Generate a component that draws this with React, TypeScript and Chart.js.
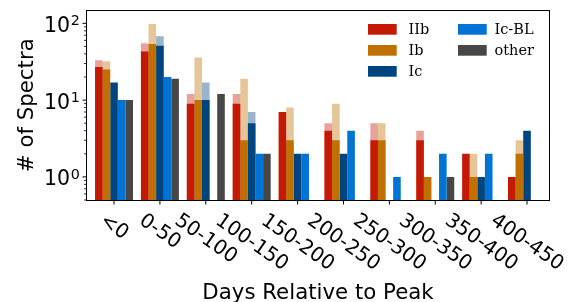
import { useEffect, useRef } from 'react';
import { Chart, registerables } from 'chart.js';

Chart.register(...registerables);

const categories = ['<0', '0-50', '50-100', '100-150', '150-200', '200-250', '250-300', '300-350', '350-400', '400-450'];
const seriesNames = ['IIb', 'Ib', 'Ic', 'Ic-BL', 'other'];

const iibSolid = [27, 43, 9, 9, 7, 4, 3, 3, 2, 1];
const iibTotal = [33, 55, 12, 12, 7, 5, 5, 4, 2, 1];
const ibSolid = [25, 54, 10, 3, 3, 3, 3, 1, 1, 2];
const ibTotal = [32, 98, 36, 19, 8, 9, 5, 1, 2, 3];
const icSolid = [17, 51, 10, 5, 2, 2, null, null, 1, 4];
const icTotal = [17, 68, 17, 7, 2, 2, null, null, 1, 4];
const icblValues = [10, 20, null, 2, 2, 4, 1, 2, 2, null];
const otherValues = [10, 19, 12, 2, null, null, null, 1, null, null];

const yMajorTicks = [1, 10, 100];
const yMajorExponents = ['0', '1', '2'];
const yMinorTicks = [0.5, 0.6, 0.7, 0.8, 0.9, 2, 3, 4, 5, 6, 7, 8, 9, 20, 30, 40, 50, 60, 70, 80, 90];

const SOLID_COLORS = ['#c41a04', '#c07000', '#004580', '#0073d5', '#474747'];
const LIGHT_COLORS = ['rgba(196,26,4,0.4)', 'rgba(192,112,0,0.4)', 'rgba(0,69,128,0.4)'];

const solidSeries: (number | null)[][] = [iibSolid, ibSolid, icSolid, icblValues, otherValues];
const totalSeries: (number | null)[][] = [iibTotal, ibTotal, icTotal];

const toPoints = (vals: (number | null)[]) => vals.map((v, i) => ({ x: i, y: v }));

const overlay = {
  id: 'overlay',
  afterDatasetsDraw(chart: any) {
    const { ctx, chartArea: a } = chart;
    const x = chart.scales.x;
    const y = chart.scales.y;
    ctx.save();
    ctx.strokeStyle = '#000';
    ctx.fillStyle = '#000';
    ctx.lineWidth = 1;
    // frame
    ctx.strokeRect(a.left, a.top, a.right - a.left, a.bottom + 0.5 - a.top);

    // y ticks
    ctx.beginPath();
    yMajorTicks.forEach((v) => {
      const py = y.getPixelForValue(v);
      ctx.moveTo(a.left - 4, py);
      ctx.lineTo(a.left, py);
    });
    ctx.stroke();
    ctx.lineWidth = 0.8;
    ctx.beginPath();
    yMinorTicks.forEach((v) => {
      const py = y.getPixelForValue(v);
      ctx.moveTo(a.left - 2.5, py);
      ctx.lineTo(a.left, py);
    });
    ctx.stroke();

    // y labels
    yMajorTicks.forEach((v, k) => {
      const py = y.getPixelForValue(v);
      ctx.font = '20.5px "DejaVu Sans"';
      ctx.textAlign = 'right';
      ctx.textBaseline = 'alphabetic';
      ctx.fillText('10', a.left - 16.5, py + 8.4);
      ctx.font = '14.3px "DejaVu Sans"';
      ctx.textAlign = 'left';
      ctx.fillText(yMajorExponents[k], a.left - 15.8, py + 1.7);
    });

    // x ticks and labels
    ctx.lineWidth = 1;
    const theta = (35 * Math.PI) / 180;
    categories.forEach((label, i) => {
      const px = x.getPixelForValue(i);
      ctx.beginPath();
      ctx.moveTo(px, a.bottom);
      ctx.lineTo(px, a.bottom + 4.5);
      ctx.stroke();
      ctx.font = '20px "DejaVu Sans"';
      const L = ctx.measureText(label).width;
      const bh = L * Math.sin(theta) + 15 * Math.cos(theta);
      ctx.save();
      ctx.translate(px, a.bottom + 12.5 + bh / 2);
      ctx.rotate(theta);
      ctx.textAlign = 'center';
      ctx.textBaseline = 'middle';
      ctx.fillText(label, 0, 0);
      ctx.restore();
    });

    // axis titles
    ctx.font = '21.3px "DejaVu Sans"';
    ctx.textAlign = 'center';
    ctx.textBaseline = 'alphabetic';
    ctx.fillText('Days Relative to Peak', (a.left + a.right) / 2, 298.5);
    ctx.save();
    ctx.translate(32.5, (a.top + a.bottom) / 2);
    ctx.rotate(-Math.PI / 2);
    ctx.fillText('# of Spectra', 0, 0);
    ctx.restore();

    // legend
    const patchX = [368, 458];
    const textX = [408.5, 494.5];
    ctx.font = '14.5px "DejaVu Serif"';
    ctx.textAlign = 'left';
    ctx.textBaseline = 'alphabetic';
    for (let k = 0; k < 5; k++) {
      const col = k < 3 ? 0 : 1;
      const row = k < 3 ? k : k - 3;
      const top = 24 + row * 21;
      const ds = chart.data.datasets[k];
      ctx.fillStyle = ds.backgroundColor;
      ctx.fillRect(patchX[col], top, 28.7, 10.7);
      ctx.fillStyle = '#000';
      ctx.fillText(ds.label, textX[col], top + 10.2);
    }
    ctx.restore();
  },
};

export default function App() {
  const ref = useRef<HTMLCanvasElement>(null);
  useEffect(() => {
    const canvas = ref.current;
    if (!canvas) return;
    const datasets: any[] = [];
    solidSeries.forEach((vals, k) => {
      datasets.push({
        label: seriesNames[k],
        data: toPoints(vals),
        backgroundColor: SOLID_COLORS[k],
        stack: 's' + k,
      });
    });
    totalSeries.forEach((tot, k) => {
      const solid = solidSeries[k];
      const extra = tot.map((t, i) => (t != null && solid[i] != null && t > (solid[i] as number) ? t : null));
      datasets.push({
        label: seriesNames[k] + ' (all)',
        data: toPoints(extra),
        backgroundColor: LIGHT_COLORS[k],
        stack: 's' + k,
      });
    });
    const chart = new Chart(canvas, {
      type: 'bar',
      data: { datasets },
      options: {
        animation: false,
        responsive: false,
        devicePixelRatio: 1,
        layout: { padding: { left: 86.5, top: 10.5, right: 23.5, bottom: 102 } },
        datasets: { bar: { categoryPercentage: 0.828, barPercentage: 1, borderWidth: 0 } },
        plugins: { legend: { display: false }, tooltip: { enabled: false } },
        scales: {
          x: {
            type: 'linear',
            display: false,
            min: -0.6,
            max: 9.49,
            offset: false,
            ticks: { stepSize: 1, includeBounds: false },
            afterBuildTicks: (s: any) => {
              s.ticks = categories.map((_, i) => ({ value: i }));
            },
          },
          y: { type: 'logarithmic', display: false, min: 0.5, max: 147, stacked: false },
        },
      } as any,
      plugins: [overlay],
    });
    return () => chart.destroy();
  }, []);
  return (
    <div style={{ position: 'fixed', left: 0, top: 0, width: 573, height: 302, background: '#fff' }}>
      <canvas ref={ref} width={573} height={302} style={{ display: 'block' }} />
    </div>
  );
}
